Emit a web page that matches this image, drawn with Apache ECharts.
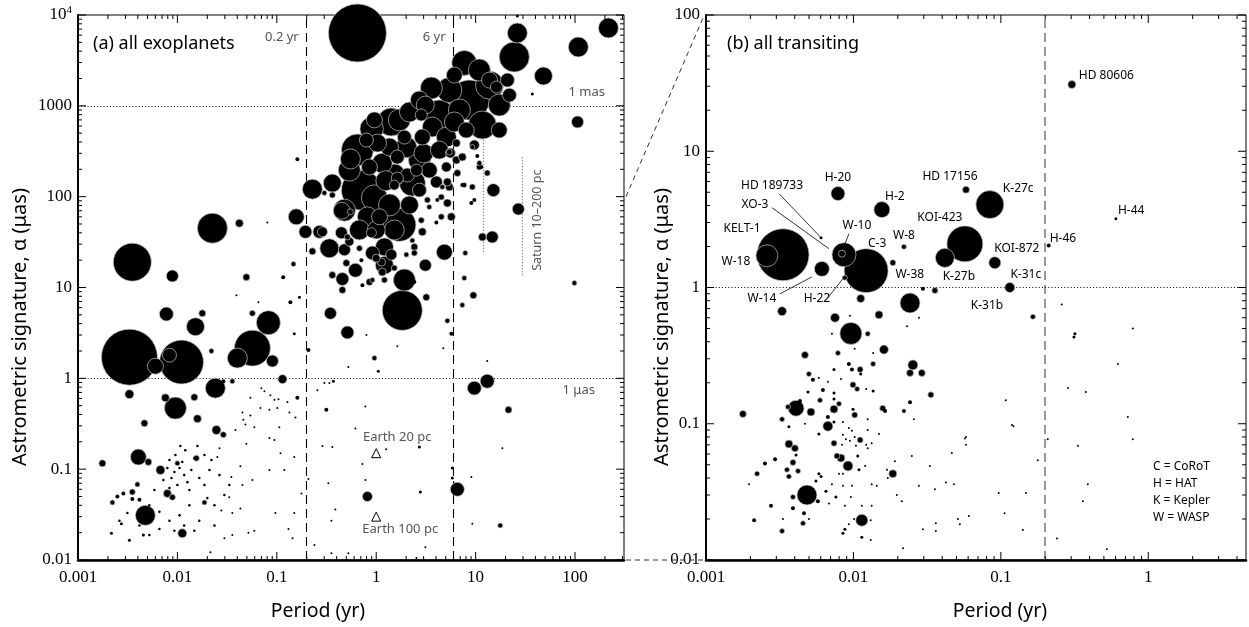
<!DOCTYPE html>
<html><head><meta charset="utf-8">
<script src="https://cdn.jsdelivr.net/npm/echarts@6/dist/echarts.min.js"></script>
<style>html,body{margin:0;padding:0;background:#fff}#c{width:1249px;height:627px}</style>
</head><body><div id="c"></div>
<script>
// ---------------- DATA ----------------
// Each row: [period (yr), astrometric signature (µas), planet mass (M_J, sets bubble size)]
// (a) all exoplanets — long-period / outer planets
const exoOuter = [
[0.647,6340,24.4],[26.3,6340,1.0],[24.5,3450,3.4],[7.69,2960,1.95],[48.1,2130,0.73],[108,4440,1.0],[217,7200,1.0],[106,664,0.22],[37.2,1350,0.0034],[26.3,9750,0.0034],
[98.6,11.2,0.016],[26.9,73,0.22],[15.1,118,0.275],[14.7,36,0.22],[11.7,36,0.064],[13.1,182,0.027],[10.9,234,0.016],[4.85,24.5,0.51],[7.87,24,0.016],[9.49,8.2,0.043],
[7.35,6.4,0.016],[1.83,5.6,8.0],[0.346,5.2,0.22],[0.513,3.2,0.275],[0.959,1.67,0.016],[5.2,4.3,0.016],[9.71,0.78,0.34],[13.1,0.93,0.34],[21.4,0.45,0.043],[6.55,0.06,0.34],
[0.815,0.05,0.125],[2.72,0.175,0.0034],[2.78,0.056,0.0034],[17.7,0.024,0.016],[5.83,0.103,0.0034]
];
// (a) short-period planets
const exoInner = [
[0.161,259,0.008],[0.228,121,1.0],[0.157,60,0.51],[0.194,41,0.275],[0.268,41,0.275],[0.228,25,0.043],[0.147,18.1,0.016],[0.116,13,0.008],[0.0494,13,0.043],[0.0089,13.4,0.22],
[0.00352,19,6.86],[0.0225,45,3.4],[0.042,51,0.064],[0.0804,52,0.001],[0.0392,8.2,0.001],[0.0653,6.9,0.001],[0.137,6.9,0.008],[0.169,7.8,0.0034],[0.00775,5.1,0.34],[0.0178,5.2,0.043],
[0.0152,3.7,0.73],[0.0568,5.2,0.027],[0.0823,4.1,1.73],[0.00329,1.71,22],[0.00601,1.36,0.51],[0.011,1.51,10.6],[0.00832,1.8,0.34],[0.0568,2.15,5.8],[0.0401,1.67,1.0],[0.0903,1.55,0.22],
[0.022,2.0,0.016],[0.114,0.98,0.091],[0.208,2.05,0.008],[0.0241,0.78,1.0],[0.00329,0.67,0.091],[0.00757,0.61,0.064],[0.00955,0.47,1.33],[0.0148,0.62,0.043],[0.0357,0.93,0.016],[0.161,0.61,0.008],
[0.029,0.93,0.008],[0.00466,0.32,0.043],[0.0159,0.36,0.064],[0.0247,0.27,0.091],[0.029,0.24,0.027],[0.00405,0.136,0.51],[0.0051,0.12,0.043],[0.00176,0.116,0.043],[0.00675,0.098,0.091],[0.01,0.116,0.016],
[0.0155,0.132,0.027],[0.00476,0.031,1.0],[0.00352,0.056,0.027],[0.00396,0.068,0.016],[0.00793,0.054,0.064],[0.00891,0.049,0.027],[0.0112,0.0197,0.091],[0.0187,0.043,0.016],[0.00222,0.043,0.016],[0.00249,0.05,0.008],
[0.00286,0.054,0.008],[0.00352,0.047,0.008],[0.00415,0.046,0.008],[0.00273,0.025,0.0034],[0.00329,0.0165,0.0034],[0.00217,0.0197,0.0034],[0.00455,0.0188,0.0034]
];
// (a) the dense radial-velocity band
const exoBand = [
[0.647,326,4.1],[1.42,664,2.74],[3.59,1570,1.33],[5.44,1490,1.95],[8.65,1160,8.0],[4.32,793,3.4],[13.8,1690,2.74],[11.7,615,2.74],[13.8,1920,0.51],[16.2,1610,0.22],
[20.9,1920,0.34],[2.84,793,0.22],[3.67,585,1.0],[5.08,453,1.0],[2.91,453,0.51],[1.92,453,0.34],[1.36,352,0.73],[1.03,389,0.73],[0.796,420,0.34],[1.63,273,0.34],
[1.15,234,1.0],[0.855,212,0.51],[0.71,118,8.0],[0.959,97,2.2],[1.36,81,1.33],[0.815,60,1.0],[1.08,60,0.51],[1.0,43,0.73],[1.71,49,4.5],[2.31,141,2.2],
[3.42,196,0.51],[4.03,145,0.22],[2.06,173,0.34],[2.54,196,0.22],[0.362,141,0.73],[5.08,212,0.125],[5.57,302,0.125],[6.4,253,0.064],[7.35,273,0.064],[8.05,541,0.51],
[9.71,370,0.125],[10.9,212,0.027],[9.27,128,0.027],[6.55,182,0.043],[7.69,134,0.016],[5.44,128,0.064],[4.52,99,0.027],[3.27,92,0.027],[5.2,85,0.064],[5.7,60,0.064],
[4.52,60,0.027],[3.42,77,0.016],[2.84,55,0.027],[2.91,41,0.064],[2.31,33,0.016],[2.42,28,0.043],[9.06,85,0.008],[6.4,389,0.064],[5.44,310,0.027],[4.62,128,0.016],
[7.35,134,0.008],[9.71,92,0.008],[4.12,92,0.008],[4.03,52,0.008],[5.2,145,0.064],[10.4,280,0.008],[9.27,352,0.016],[11.4,212,0.008],[0.362,104,0.027],[0.301,110,0.016],
[0.447,40,0.22],[0.288,41,0.125],[0.338,27,0.86],[0.457,12.4,0.275],[0.479,26,0.22],[0.537,32,0.091],[0.513,36,0.027],[0.55,68,0.027],[0.895,40,0.125],[0.678,27,0.027],
[0.916,24,0.34],[1.21,28,0.73],[1.42,23,0.17],[1.13,19,0.064],[1.0,21,0.064],[2.01,23,0.016],[2.42,24,0.027],[0.501,18.6,0.043],[0.71,20,0.008],[0.362,13.7,0.043],
[0.457,9.4,0.043],[1.15,14.8,0.064],[1.21,12.1,0.027],[1.92,12.1,1.33],[1.52,16.4,0.027],[1.83,7.8,0.008],[2.42,11.5,0.008],[3.19,7.8,0.043],[0.855,11.5,0.043],[0.916,12.1,0.016],
[0.726,10.6,0.008],[7.69,12.7,0.016],[2.16,855,1.0],[2.72,1160,0.73],[6.11,2180,0.51],[17.3,1020,1.33],[21.9,1310,0.34],[1.63,160,0.22],[2.72,118,0.34],[1.52,134,0.125],
[0.55,260,1.0],[0.9,560,1.6],[2.0,350,1.2],[3.0,300,0.9],[0.45,70,0.6],[1.25,150,1.0],
[1.52,173,1.33],[2.72,253,1.33],[4.32,326,0.73],[6.11,664,1.0],[0.537,196,1.33],[0.479,71,1.33],[0.678,43,1.0],[1.52,43,1.0],[2.16,81,0.73],[1.21,17.6,0.73],
[0.618,15.5,0.34],[3.12,17.6,0.22],[1.71,700,1.33],[0.959,700,0.51],[10.9,2480,1.33],[17.3,541,0.51],[6.87,900,1.33],[3.12,1020,0.73]
];
// (a) low-mass planets (small dots)
const exoDots = [
[0.15,3.1,0.0034],[0.07,0.78,0.001],[0.075,0.72,0.001],[0.0862,0.65,0.001],[0.0946,0.58,0.001],[0.104,0.59,0.001],[0.0542,0.61,0.001],[0.0684,0.47,0.001],[0.0842,0.45,0.001],[0.101,0.47,0.001],
[0.128,0.55,0.001],[0.134,0.42,0.001],[0.154,0.37,0.001],[0.0451,0.42,0.001],[0.0483,0.31,0.001],[0.0542,0.39,0.001],[0.0461,0.35,0.001],[0.0383,0.27,0.001],[0.0595,0.29,0.001],[0.106,0.29,0.001],
[0.0842,0.22,0.001],[0.0946,0.21,0.001],[0.0494,0.19,0.001],[0.0265,0.17,0.001],[0.0252,0.136,0.001],[0.043,0.108,0.001],[0.0349,0.082,0.001],[0.0451,0.067,0.001],[0.0568,0.076,0.001],[0.0842,0.098,0.001],
[0.109,0.15,0.001],[0.15,0.136,0.001],[0.119,0.098,0.001],[0.177,0.054,0.001],[0.0968,0.033,0.001],[0.15,0.033,0.001],[0.131,0.022,0.001],[0.144,0.0174,0.001],[0.0297,0.0174,0.001],[0.0357,0.0188,0.001],
[0.0518,0.02,0.001],[0.0595,0.021,0.001],[0.043,0.037,0.001],[0.0357,0.033,0.001],[0.0277,0.035,0.001],[0.0333,0.049,0.001],[0.0215,0.0122,0.001],[0.239,0.0146,0.001],
[0.00933,0.093,0.002],[0.0105,0.103,0.002],[0.0117,0.086,0.002],[0.00871,0.08,0.002],[0.01,0.067,0.002],[0.0126,0.072,0.002],[0.0112,0.12,0.002],[0.00832,0.126,0.002],[0.0138,0.098,0.002],[0.00793,0.103,0.002],
[0.00955,0.143,0.002],[0.012,0.162,0.002],[0.0107,0.18,0.002],[0.0148,0.132,0.002],[0.0166,0.08,0.002],[0.0132,0.059,0.002],[0.0187,0.067,0.002],[0.021,0.098,0.002],[0.0159,0.18,0.002],[0.00832,0.062,0.002],
[0.00723,0.076,0.002],[0.00659,0.098,0.002],[0.00587,0.059,0.002],[0.0187,0.143,0.002],[0.022,0.126,0.002],[0.0265,0.086,0.002],[0.02,0.048,0.002],[0.0236,0.04,0.002],[0.0132,0.04,0.002],[0.0105,0.031,0.002],
[0.00832,0.027,0.002],[0.00659,0.034,0.002],[0.00522,0.04,0.002],[0.0166,0.027,0.002],[0.0236,0.024,0.002],[0.0148,0.021,0.002],[0.0117,0.024,0.002],[0.00933,0.021,0.002],[0.00659,0.022,0.002],[0.00522,0.0188,0.002],
[0.00415,0.024,0.002],[0.00314,0.033,0.002],[0.00261,0.027,0.002],[0.0297,0.052,0.002],[0.0333,0.067,0.002],
[0.256,0.74,0.001],[0.301,0.89,0.001],[0.338,0.89,0.001],[0.371,0.93,0.0034],[0.315,0.45,0.008],[0.778,0.49,0.001],[0.618,0.28,0.001],[0.288,0.18,0.001],[0.362,0.175,0.001],[1.26,0.166,0.001],
[0.726,0.114,0.001],[0.208,0.078,0.001],[0.33,0.07,0.001],[0.778,0.076,0.001],[0.388,0.036,0.001],[0.354,0.027,0.001],[0.354,0.0119,0.001],[0.525,0.0119,0.001],[3.12,0.0138,0.001],[2.54,0.0105,0.001],
[1.63,2.26,0.001],[4.73,2.15,0.001],[1.05,1.2,0.0034],[0.525,1.33,0.001],[0.796,3.0,0.001],[5.7,3.1,0.008],[9.06,0.082,0.001],[9.27,0.025,0.001],[13.1,1.55,0.001],[18.6,0.17,0.001],[5.83,0.08,0.0034]
];

// (b) all transiting — named planets (same order as names)
const trNames = ['HD 80606','H-44','H-46','K-27c','HD 17156','KOI-423','K-27b','KOI-872','K-31c','K-31b','H-20','H-2','HD 189733','XO-3','W-10','C-3','KELT-1','W-18','W-14','H-22','W-8','W-38'];
const trNamed = [
[0.303,30.9,0.064],[0.603,3.2,0.0034],[0.211,2.03,0.008],[0.0842,4.06,2.74],[0.058,5.22,0.043],[0.057,2.09,5.8],[0.0417,1.65,0.86],[0.091,1.52,0.22],[0.115,1.0,0.125],[0.165,0.61,0.016],
[0.00785,4.89,0.34],[0.0156,3.73,0.51],[0.00603,2.32,0.0034],[0.00863,1.74,1.73],[0.00836,1.77,0.043],[0.0122,1.33,10.6],[0.00333,1.74,17.6],[0.00259,1.71,1.33],[0.00611,1.37,0.42],[0.00875,1.18,0.016],
[0.022,1.99,0.016],[0.0185,1.52,0.027]
];
// (b) other transiting planets
const trOthers = [
[0.0357,0.95,0.027],[0.259,0.75,0.001],[0.0296,0.98,0.008],[0.0242,0.77,1.0],[0.0112,0.83,0.064],[0.00328,0.67,0.091],[0.0075,0.6,0.091],[0.0149,0.63,0.064],[0.00961,0.46,1.33],[0.0125,0.457,0.016],
[0.00715,0.457,0.001],[0.00946,0.62,0.001],[0.0278,0.6,0.001],[0.0231,0.52,0.001],[0.0161,0.35,0.091],[0.00469,0.32,0.043],[0.00785,0.33,0.016],[0.0136,0.33,0.001],[0.0102,0.355,0.001],[0.0253,0.27,0.125],
[0.0242,0.236,0.043],[0.0291,0.236,0.043],[0.0136,0.275,0.016],[0.00931,0.275,0.008],[0.00977,0.25,0.008],[0.0111,0.25,0.027],[0.0112,0.232,0.0034],[0.00738,0.25,0.0034],[0.00499,0.232,0.016],[0.00531,0.21,0.008],
[0.00583,0.217,0.001],[0.00671,0.203,0.001],[0.00823,0.213,0.001],[0.00993,0.193,0.027],[0.0106,0.18,0.016],[0.0136,0.174,0.0034],[0.0122,0.18,0.001],[0.0335,0.163,0.027],[0.00621,0.177,0.008],[0.00492,0.171,0.0034],
[0.00738,0.168,0.0034],[0.00593,0.149,0.016],[0.00738,0.152,0.0034],[0.00798,0.14,0.016],[0.00408,0.13,0.51],[0.0036,0.133,0.016],[0.00434,0.147,0.008],[0.00515,0.122,0.064],[0.00738,0.128,0.064],[0.00993,0.128,0.0034],
[0.0102,0.116,0.027],[0.00671,0.112,0.008],[0.00178,0.118,0.043],[0.00328,0.108,0.016],[0.00671,0.096,0.125],[0.00738,0.103,0.0034],[0.00849,0.103,0.001],[0.0125,0.108,0.001],[0.0158,0.13,0.027],[0.0164,0.124,0.008],
[0.022,0.124,0.008],[0.0242,0.144,0.008],[0.0257,0.108,0.001],[0.00469,0.1,0.001],[0.00365,0.095,0.0034],[0.00583,0.084,0.0034],[0.00931,0.093,0.001],[0.00977,0.089,0.001],[0.00849,0.083,0.001],[0.00889,0.077,0.001],
[0.00946,0.075,0.001],[0.0102,0.08,0.001],[0.0111,0.078,0.001],[0.00836,0.07,0.001],[0.0104,0.069,0.001],[0.0122,0.07,0.001],[0.0125,0.066,0.001],[0.00738,0.072,0.027],[0.0111,0.076,0.027],[0.0133,0.072,0.001],
[0.0149,0.084,0.001],[0.00365,0.071,0.064],[0.00401,0.066,0.043],[0.00408,0.059,0.0034],[0.00773,0.058,0.027],[0.00823,0.056,0.064],[0.00389,0.052,0.027],[0.00294,0.055,0.008],[0.00251,0.051,0.008],[0.00222,0.043,0.016],
[0.00354,0.046,0.016],[0.00365,0.041,0.016],[0.00421,0.045,0.016],[0.00918,0.049,0.125],[0.0109,0.046,0.0034],[0.0107,0.058,0.0034],[0.012,0.049,0.001],[0.00798,0.043,0.001],[0.00849,0.043,0.001],[0.00583,0.043,0.0034],
[0.00603,0.041,0.0034],[0.00557,0.038,0.0034],[0.00715,0.036,0.001],[0.00849,0.035,0.001],[0.00977,0.035,0.001],[0.0133,0.036,0.001],[0.0144,0.035,0.001],[0.0169,0.046,0.001],[0.0171,0.04,0.001],[0.0185,0.043,0.064],
[0.0191,0.053,0.001],[0.0249,0.058,0.001],[0.033,0.049,0.001],[0.0278,0.035,0.001],[0.0357,0.033,0.001],[0.0424,0.037,0.001],[0.048,0.036,0.001],[0.0465,0.061,0.001],[0.057,0.078,0.001],[0.00484,0.030,1.0],
[0.00389,0.029,0.016],[0.00574,0.027,0.008],[0.00651,0.032,0.0034],[0.0076,0.029,0.0034],[0.00961,0.029,0.001],[0.00682,0.026,0.001],[0.00276,0.025,0.008],[0.00389,0.024,0.008],[0.00462,0.022,0.008],[0.00875,0.025,0.001],
[0.0114,0.025,0.001],[0.0133,0.025,0.001],[0.0197,0.030,0.001],[0.0213,0.027,0.001],[0.00212,0.0196,0.008],[0.00455,0.0186,0.016],[0.00328,0.0163,0.016],[0.00333,0.02,0.001],[0.00499,0.02,0.001],[0.0114,0.0196,0.22],
[0.0101,0.02,0.001],[0.0131,0.0196,0.001],[0.00931,0.0183,0.001],[0.00875,0.0168,0.0034],[0.00849,0.0157,0.0034],[0.0114,0.0147,0.0034],[0.0131,0.014,0.001],[0.0217,0.0122,0.001],[0.0296,0.0168,0.001],[0.0362,0.0186,0.001],
[0.0362,0.0163,0.001],[0.0511,0.02,0.001],[0.0527,0.0183,0.001],[0.00196,0.036,0.001],[0.0125,0.09,0.001],
[0.785,0.5,0.001],[0.318,0.457,0.0034],[0.313,0.434,0.0034],[0.622,0.275,0.001],[0.285,0.183,0.001],[0.377,0.171,0.001],[0.108,0.149,0.001],[0.726,0.112,0.001],[0.119,0.098,0.001],[0.122,0.096,0.001],
[0.208,0.077,0.001],[0.785,0.077,0.001],[0.058,0.08,0.001],[0.058,0.07,0.001],[0.333,0.069,0.001],[0.178,0.054,0.001],[0.389,0.036,0.001],[0.0968,0.031,0.001],[0.148,0.031,0.001],[0.36,0.027,0.001],
[0.0607,0.021,0.001],[0.106,0.022,0.001],[0.141,0.0166,0.001],[0.24,0.0144,0.001],[0.523,0.012,0.001]
];

// reference markers
const earthPeriod = [1, 1];
const earthAlpha = [0.15, 0.03];
const earthLabels = ['Earth 20 pc', 'Earth 100 pc'];
const refPlanetPeriod = [11.86, 29.46];       // Jupiter, Saturn
const refAlphaAt10pc = [497, 273];
const refAlphaAt200pc = [24.8, 13.6];
const periodLinesA = [0.2, 6], periodLabelsA = ['0.2 yr', '6 yr'];
const periodLinesB = [0.2];
const alphaLinesA = [1000, 1], alphaLabelsA = ['1 mas', '1 μas'];
const alphaLinesB = [1];
const legendLines = ['C = CoRoT', 'H = HAT', 'K = Kepler', 'W = WASP'];

// ---------------- LAYOUT / STYLE ----------------
const AX = {min: 0.001, max: 311}, AY = {min: 0.01, max: 10000};
const BX = {min: 0.001, max: 4.6}, BY = {min: 0.01, max: 100};
const SANS = '"Noto Sans", "Open Sans", sans-serif';
const SERIF = '"Liberation Serif", "DejaVu Serif", serif';
const labelPos = { // dx, dy, align relative to the point pixel
  'HD 80606':[7,-9,'left'],'H-44':[2,-8,'left'],'H-46':[1,-7,'left'],'K-27c':[13,-16,'left'],
  'HD 17156':[-16,-13,'center'],'KOI-423':[-25,-26,'center'],'K-27b':[14,19,'center'],'KOI-872':[22,-14,'center'],
  'K-31c':[16,-13,'center'],'K-31b':[-46,-11,'center'],'H-20':[0,-16,'center'],'H-2':[13,-13,'center'],
  'HD 189733':[-49,-52,'center'],'XO-3':[-89,-50,'center'],'W-10':[15,-28,'center'],'C-3':[11,-27,'center'],
  'KELT-1':[-41,-26,'center'],'W-18':[-31,6,'center'],'W-14':[-60,30,'center'],'H-22':[-28,21,'center'],
  'W-8':[0,-11,'center'],'W-38':[17,12,'center']
};
const leaders = {'HD 189733':[-42,-44,-1,-1],'XO-3':[-72,-47,-15,-6],'W-10':[7,-20,1,-5],'W-14':[-42,25,-10,8],'H-22':[-17,20,-2,1]};

function sizeOf(m) { return 20 * Math.cbrt(m); }
function buildData(rows) {
  return rows.slice().sort((a, b) => b[2] - a[2]).map(r => {
    const d = sizeOf(r[2]);
    return {value: r, symbolSize: d,
      itemStyle: d >= 5 ? {color: '#000', opacity: 1, borderColor: '#c4c4c4', borderWidth: 0.7} : {color: '#000', opacity: 1, borderWidth: 0}};
  });
}
function decadeLabel(v) {
  const l = Math.log10(v), e = Math.round(l);
  if (Math.abs(l - e) > 1e-6) return '';
  if (e >= 4) return '{b|10}{s|' + e + '}';
  if (e < 0) return '{b|' + Math.pow(10, e).toFixed(-e) + '}';
  return '{b|' + Math.pow(10, e) + '}';
}
const rich = {b: {fontFamily: SERIF, fontSize: 17, color: '#000'}, s: {fontFamily: SERIF, fontSize: 11, color: '#000', padding: [0, 0, 9, 0]}};
function xAxis(gi, r) {
  return {type: 'log', logBase: 10, gridIndex: gi, min: r.min, max: r.max, position: 'bottom',
    axisLine: {show: true, onZero: false, lineStyle: {color: '#000', width: 2.5}},
    axisTick: {show: false}, splitLine: {show: false}, minorTick: {show: false},
    axisLabel: {formatter: decadeLabel, rich: rich, margin: 9, hideOverlap: false}};
}
function yAxis(gi, r) {
  return {type: 'log', logBase: 10, gridIndex: gi, min: r.min, max: r.max, position: 'left',
    axisLine: {show: true, onZero: false, lineStyle: {color: '#000', width: 2}},
    axisTick: {show: false}, splitLine: {show: false}, minorTick: {show: false},
    axisLabel: {formatter: decadeLabel, rich: rich, margin: 6, hideOverlap: false}};
}
const dashed = {color: '#000', width: 1.1, type: [9, 5]};
const dotted = {color: '#000', width: 1, type: [1, 2.2]};
const grayDotted = {color: '#666', width: 1.2, type: [1, 2]};

const markA = [];
periodLinesA.forEach(v => markA.push({xAxis: v, lineStyle: dashed}));
alphaLinesA.forEach(v => markA.push({yAxis: v, lineStyle: dotted}));
refPlanetPeriod.forEach((p, i) => markA.push([{coord: [p, refAlphaAt200pc[i]], lineStyle: grayDotted}, {coord: [p, refAlphaAt10pc[i]]}]));
const markB = [];
periodLinesB.forEach(v => markB.push({xAxis: v, lineStyle: {color: '#777', width: 1.5, type: [9, 5]}}));
alphaLinesB.forEach(v => markB.push({yAxis: v, lineStyle: dotted}));

const chart = echarts.init(document.getElementById('c'), null, {renderer: 'canvas'});
chart.setOption({
  animation: false,
  backgroundColor: '#fff',
  grid: [
    {left: 78, top: 15, width: 546, height: 545, show: true, borderColor: '#000', borderWidth: 1, containLabel: false},
    {left: 706, top: 15, width: 540, height: 545, show: true, borderColor: '#000', borderWidth: 1, containLabel: false}
  ],
  xAxis: [xAxis(0, AX), xAxis(1, BX)],
  yAxis: [yAxis(0, AY), yAxis(1, BY)],
  series: [
    {type: 'scatter', xAxisIndex: 0, yAxisIndex: 0, z: 1, silent: true, symbol: 'triangle', symbolSize: 9,
      itemStyle: {color: '#fff', opacity: 1, borderColor: '#000', borderWidth: 1},
      data: earthPeriod.map((p, i) => [p, earthAlpha[i]]),
      markLine: {silent: true, symbol: 'none', z: 1, label: {show: false}, data: markA}},
    {type: 'scatter', xAxisIndex: 0, yAxisIndex: 0, z: 2, silent: true,
      data: buildData([].concat(exoOuter, exoInner, exoBand, exoDots))},
    {type: 'scatter', xAxisIndex: 1, yAxisIndex: 1, z: 2, silent: true,
      data: buildData([].concat(trOthers, trNamed)),
      markLine: {silent: true, symbol: 'none', z: 1, label: {show: false}, data: markB}}
  ]
});

// ---------------- decorations (ticks, texts) placed through the axes ----------------
const els = [];
const px = (gi, x, y) => chart.convertToPixel({gridIndex: gi}, [x, y]);
function line(x1, y1, x2, y2, stroke, w, dash) {
  els.push({type: 'line', silent: true, z: 10, shape: {x1, y1, x2, y2}, style: {stroke: stroke || '#000', lineWidth: w || 1, lineDash: dash || null}});
}
function text(t, x, y, opt) {
  opt = opt || {};
  els.push({type: 'text', silent: true, z: 11, x: x, y: y, rotation: opt.rot || 0,
    style: {text: t, font: (opt.size || 12) + 'px ' + (opt.family || SANS), fill: opt.color || '#000', align: opt.align || 'center', verticalAlign: 'middle'}});
}
function ticks(gi, xr, yr) {
  const p0 = px(gi, xr.min, yr.min), p1 = px(gi, xr.max, yr.max);
  const L = p0[0], B = p0[1], R = p1[0], T = p1[1];
  for (let e = Math.floor(Math.log10(xr.min)); e <= Math.ceil(Math.log10(xr.max)); e++) {
    for (let m = 1; m <= 9; m++) {
      const v = m * Math.pow(10, e);
      if (v < xr.min * 0.999 || v > xr.max * 1.001) continue;
      const x = px(gi, v, yr.min)[0], len = m === 1 ? 8 : 4;
      line(x, B, x, B - len); line(x, T, x, T + len);
    }
  }
  for (let e = Math.floor(Math.log10(yr.min)); e <= Math.ceil(Math.log10(yr.max)); e++) {
    for (let m = 1; m <= 9; m++) {
      const v = m * Math.pow(10, e);
      if (v < yr.min * 0.999 || v > yr.max * 1.001) continue;
      const y = px(gi, xr.min, v)[1], len = m === 1 ? 8 : 4;
      line(L, y, L + len, y); line(R, y, R - len, y);
    }
  }
}
ticks(0, AX, AY);
ticks(1, BX, BY);

// panel titles and axis titles
text('(a) all exoplanets', 93, 44, {size: 18, align: 'left'});
text('(b) all transiting', 727, 44, {size: 18, align: 'left'});
text('Period (yr)', 318, 611, {size: 19.5});
text('Period (yr)', 1000, 611, {size: 19.5});
text('Astrometric signature, α (μas)', 20, 327, {size: 20, rot: Math.PI / 2});
text('Astrometric signature, α (μas)', 662, 327, {size: 20, rot: Math.PI / 2});

// panel (a) annotations
periodLinesA.forEach((v, i) => { const p = px(0, v, AY.max); text(periodLabelsA[i], p[0] - 8, p[1] + 22, {size: 13, color: '#555', align: 'right'}); });
alphaLinesA.forEach((v, i) => { const p = px(0, AX.max, v); text(alphaLabelsA[i], p[0] - (i === 0 ? 19 : 29), p[1] + (i === 0 ? -14 : 12), {size: 13, color: '#555', align: 'right'}); });
{ const p = px(0, refPlanetPeriod[1], Math.sqrt(refAlphaAt10pc[1] * refAlphaAt200pc[1]));
  text('Saturn 10–200 pc', p[0] + 15, p[1] + 4, {size: 12.5, color: '#555', rot: Math.PI / 2}); }
earthLabels.forEach((t, i) => { const p = px(0, earthPeriod[i], earthAlpha[i]); text(t, p[0] + (i === 0 ? 21 : 24), p[1] + (i === 0 ? -16 : 13), {size: 13, color: '#555'}); });

// connectors between panels
{ const a1 = px(0, AX.max, BY.max), b1 = px(1, BX.min, BY.max), a2 = px(0, AX.max, BY.min), b2 = px(1, BX.min, BY.min);
  line(a1[0] + 2, a1[1], b1[0] - 3, b1[1] + 3, '#333', 1, [5, 4]);
  line(a2[0] + 2, a2[1], b2[0] - 2, b2[1], '#333', 1, [5, 4]); }

// panel (b) labels
trNames.forEach((n, i) => {
  const p = px(1, trNamed[i][0], trNamed[i][1]), o = labelPos[n];
  text(n, p[0] + o[0], p[1] + o[1], {size: 12, align: o[2]});
  const l = leaders[n];
  if (l) line(p[0] + l[0], p[1] + l[1], p[0] + l[2], p[1] + l[3], '#000', 0.8);
});
legendLines.forEach((t, i) => text(t, 1153, 467 + i * 16.7, {size: 12, align: 'left'}));

chart.setOption({graphic: {elements: els}});
</script>
</body></html>
